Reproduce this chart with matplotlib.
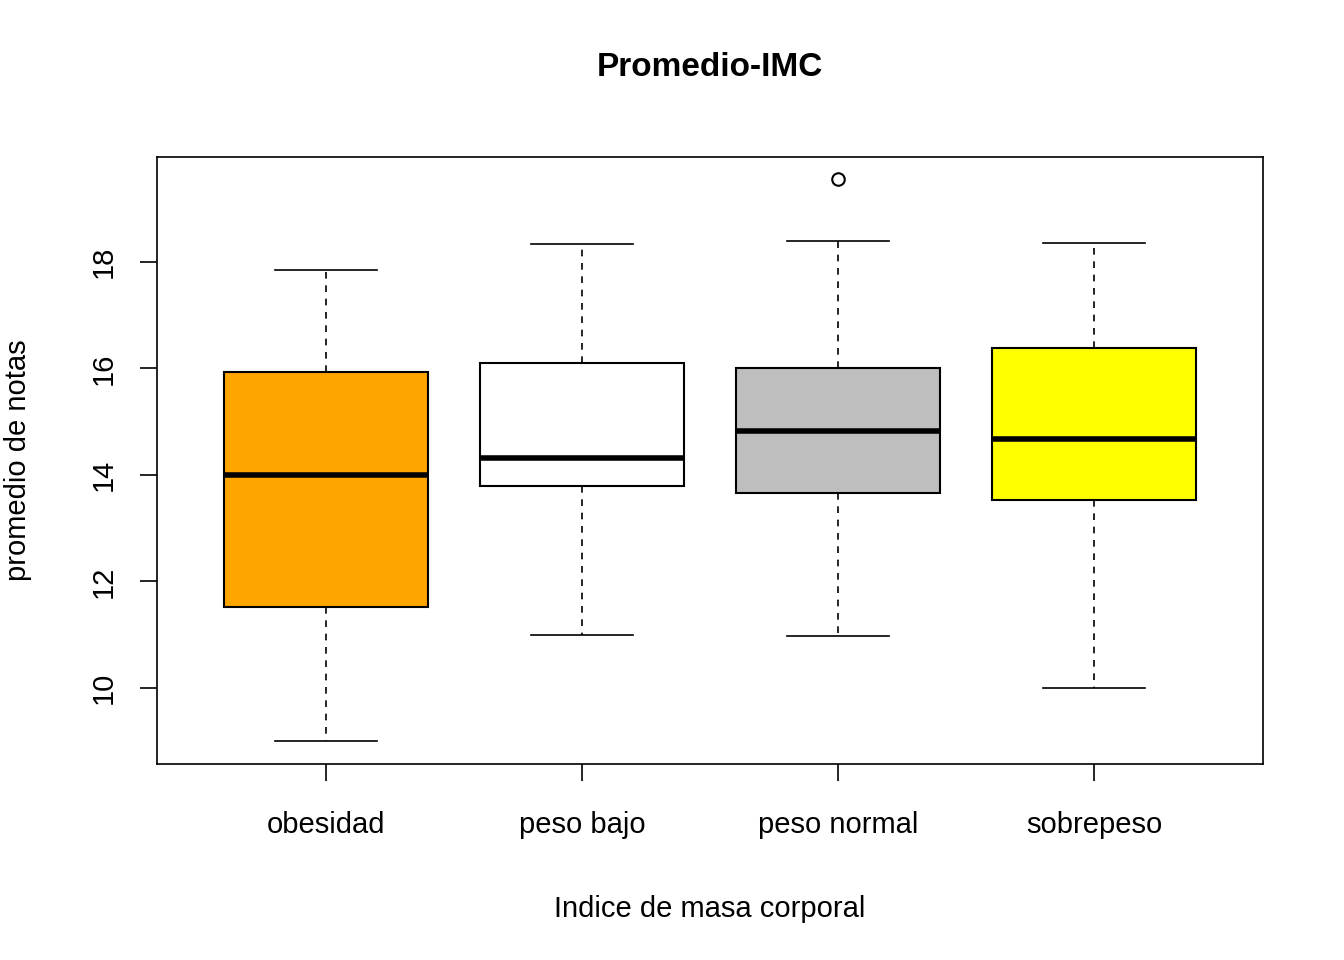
import matplotlib.pyplot as plt

categories = ['obesidad', 'peso bajo', 'peso normal', 'sobrepeso']
whislo = [9.0, 11.0, 10.98, 10.0]
q1 = [11.52, 13.79, 13.66, 13.53]
med = [14.0, 14.32, 14.83, 14.68]
q3 = [15.93, 16.1, 16.0, 16.38]
whishi = [17.85, 18.34, 18.39, 18.36]
outliers = [[], [], [19.56], []]
colors = ['orange', 'white', '#BEBEBE', 'yellow']

plt.rcParams['font.family'] = ['Liberation Sans', 'DejaVu Sans']
fig = plt.figure(figsize=(13.44, 9.6), dpi=100)
ax = fig.add_axes([157/1344, 1-764/960, (1263-157)/1344, (764-157)/960])

stats = []
for i, c in enumerate(categories):
    stats.append({'label': c, 'whislo': whislo[i], 'q1': q1[i], 'med': med[i],
                  'q3': q3[i], 'whishi': whishi[i], 'fliers': outliers[i]})

bp = ax.bxp(stats, positions=[1, 2, 3, 4], widths=0.8, patch_artist=True,
            boxprops=dict(edgecolor='black', linewidth=1.5),
            medianprops=dict(color='black', linewidth=4),
            whiskerprops=dict(color='black', linestyle=(0, (4, 4)), linewidth=1.2),
            capprops=dict(color='black', linewidth=1.2),
            flierprops=dict(marker='o', markerfacecolor='none', markeredgecolor='black',
                            markersize=9, markeredgewidth=1.5),
            capwidths=0.4)
for patch, col in zip(bp['boxes'], colors):
    patch.set_facecolor(col)

ax.set_xlim(0.34, 4.66)
ax.set_ylim(8.57, 19.97)
ax.set_yticks([10, 12, 14, 16, 18])
ax.set_yticklabels(['10', '12', '14', '16', '18'], rotation=90, va='center')
ax.tick_params(labelsize=21, length=12, width=1.2, pad=16)
ax.tick_params(axis='x', pad=22)
for s in ax.spines.values():
    s.set_linewidth(1.2)

ax.set_title('Promedio-IMC', fontsize=24, fontweight='bold', pad=58)
ax.set_xlabel('Indice de masa corporal', fontsize=21, labelpad=40)
ax.set_ylabel('promedio de notas', fontsize=21, labelpad=42)

fig.savefig('out.png', dpi=100)
